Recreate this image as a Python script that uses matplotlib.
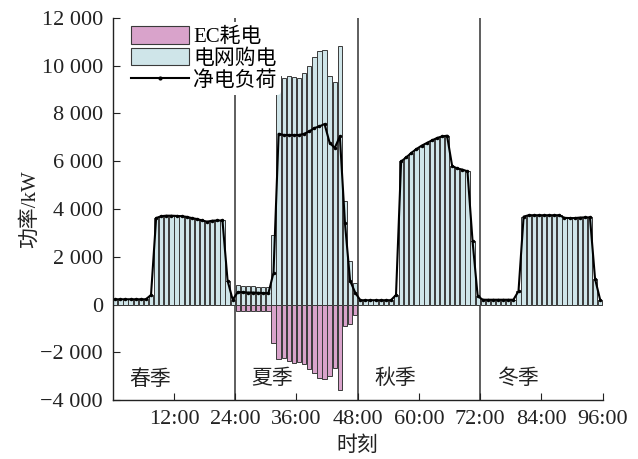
import numpy as np
import matplotlib
matplotlib.use("Agg")
import matplotlib.pyplot as plt
from matplotlib.patches import Patch
from matplotlib.lines import Line2D
from matplotlib.ticker import FuncFormatter

plt.rcParams['font.family'] = ['Liberation Serif', 'Noto Sans CJK SC']
plt.rcParams['axes.unicode_minus'] = True

# hourly net load per season (kW)
spring_net = [220, 220, 220, 220, 220, 220, 220, 400, 3620, 3700, 3720, 3720, 3710, 3700,
              3670, 3620, 3580, 3520, 3470, 3510, 3520, 3520, 1000, 200]
summer_net = [520, 510, 500, 500, 490, 480, 470, 1330, 7150, 7100, 7100, 7100, 7100, 7150,
              7250, 7390, 7460, 7560, 6770, 6560, 7040, 3400, 1000, 500]
autumn_net = [180, 180, 180, 180, 180, 180, 180, 400, 5990, 6160, 6350, 6510, 6650, 6760,
              6870, 6970, 7040, 7070, 5800, 5700, 5650, 5580, 2650, 350]
winter_net = [200, 200, 200, 200, 200, 200, 200, 560, 3680, 3740, 3740, 3740, 3740, 3740,
              3740, 3740, 3630, 3620, 3620, 3640, 3650, 3650, 1070, 200]

# summer grid purchase and EC consumption (kW)
summer_grid = [810, 790, 770, 770, 750, 740, 730, 2930, 9590, 9480, 9550, 9510, 9480, 9690,
               10000, 10360, 10600, 10670, 9550, 9300, 10810, 4320, 1810, 920]
summer_ec = [-290, -280, -270, -270, -260, -260, -260, -1600, -2300, -2250, -2370, -2450,
             -2400, -2510, -2720, -2860, -3070, -3140, -3000, -2650, -3560, -900, -820, -420]

seasons = ['春季', '夏季', '秋季', '冬季']
xticks = [12, 24, 36, 48, 60, 72, 84, 96]
xtick_labels = ['12:00', '24:00', '36:00', '48:00', '60:00', '72:00', '84:00', '96:00']

pink = '#d9a3cb'
blue = '#cfe5e9'
edge = '#3a3a3a'

net = np.array(spring_net + summer_net + autumn_net + winter_net)
grid = np.array(spring_net + summer_grid + autumn_net + winter_net)
ec = np.array([0] * 24 + summer_ec + [0] * 48)
hours = np.arange(96) + 0.5

fig = plt.figure(figsize=(6.38, 4.59), dpi=100)
ax = fig.add_axes([0.1767, 0.1285, 0.7680, 0.8323])

ax.bar(hours, grid, width=0.85, color=blue, edgecolor=edge, linewidth=0.7, zorder=2)
ax.bar(hours, ec, width=0.85, color=pink, edgecolor=edge, linewidth=0.7, zorder=2)
ax.plot(hours, net, color='black', lw=1.5, marker='.', markersize=3, zorder=3)

for x in [24, 48, 72]:
    ax.axvline(x, color='#333333', lw=1.1, zorder=1)

for i, s in enumerate(seasons):
    ax.text(24 * i + 3.2, -3150, s, fontsize=15, ha='left', va='center', color='#222222')

ax.set_xlim(0, 96)
ax.set_ylim(-4000, 12000)
ax.set_yticks(range(-4000, 12001, 2000))
ax.yaxis.set_major_formatter(FuncFormatter(
    lambda v, p: ('\u2212' if v < 0 else '') + format(int(abs(v)), ',').replace(',', ' ')))
ax.set_xticks(xticks)
ax.set_xticklabels(xtick_labels)
ax.tick_params(direction='in', length=5, labelsize=16, colors='#222222')
ax.tick_params(axis='y', pad=7)
ax.tick_params(axis='x', pad=7)
for sp in ['top', 'right']:
    ax.spines[sp].set_visible(False)
for sp in ['left', 'bottom']:
    ax.spines[sp].set_color('#222222')
    ax.spines[sp].set_linewidth(1.0)

ax.set_xlabel('时刻', fontsize=15, color='#222222')
ax.xaxis.set_label_coords(0.5, -0.094)
ax.set_ylabel('功率/kW', fontsize=15, color='#222222')
ax.yaxis.set_label_coords(-0.148, 0.5)

handles = [Patch(facecolor=pink, edgecolor=edge, lw=0.8),
           Patch(facecolor=blue, edgecolor=edge, lw=0.8),
           Line2D([0], [0], color='black', lw=1.5, marker='.', markersize=4)]
leg = ax.legend(handles, ['EC耗电', '电网购电', '净电负荷'], loc='upper left',
                bbox_to_anchor=(0.02, 1.0), fontsize=15, frameon=True, framealpha=1,
                edgecolor='none', handlelength=2.8, handleheight=0.9,
                labelspacing=0.05, handletextpad=0.2, borderpad=0.2, borderaxespad=0.2)
leg.set_zorder(5)

fig.savefig('out.png', dpi=100)
